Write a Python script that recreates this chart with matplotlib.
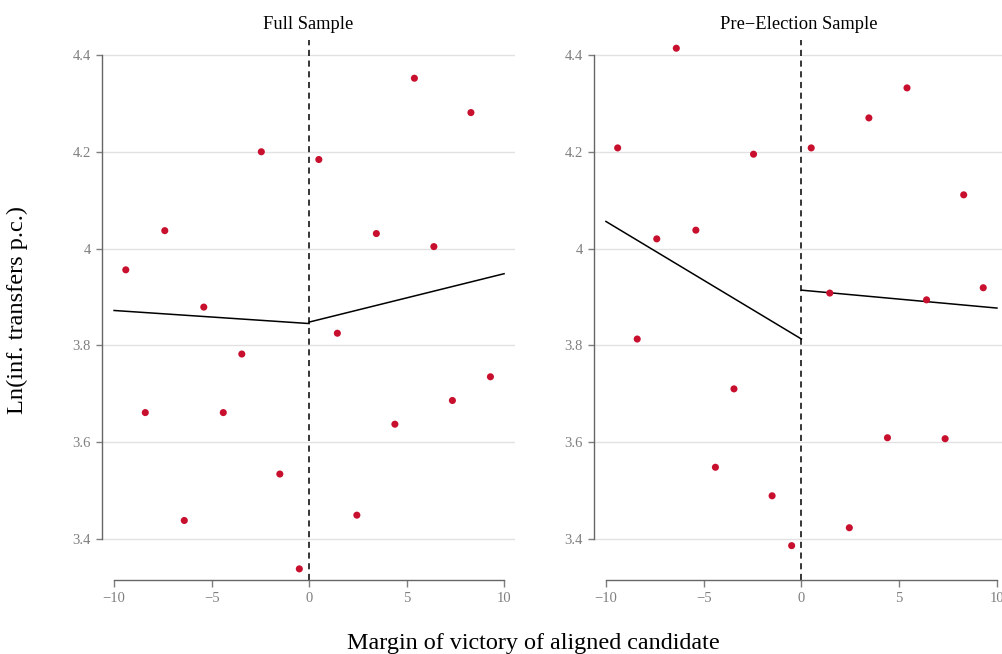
import matplotlib.pyplot as plt

plt.rcParams['font.family'] = ['Liberation Serif', 'DejaVu Serif']
plt.rcParams['axes.unicode_minus'] = True

# bin midpoints of the margin of victory
x_left = [-9.4, -8.4, -7.4, -6.4, -5.4, -4.4, -3.45, -2.45, -1.5, -0.5]
x_right = [0.5, 1.45, 2.45, 3.45, 4.4, 5.4, 6.4, 7.35, 8.3, 9.3]

# Full sample bin means
full_left = [3.956, 3.661, 4.037, 3.438, 3.879, 3.661, 3.782, 4.200, 3.534, 3.338]
full_right = [4.184, 3.825, 3.449, 4.031, 3.637, 4.352, 4.004, 3.686, 4.281, 3.735]
full_fit_left = [3.872, 3.845]
full_fit_right = [3.848, 3.948]

# Pre-election sample bin means
pre_left = [4.208, 3.813, 4.020, 4.414, 4.038, 3.548, 3.710, 4.195, 3.489, 3.386]
pre_right = [4.208, 3.908, 3.423, 4.270, 3.609, 4.332, 3.894, 3.607, 4.111, 3.919]
pre_fit_left = [4.056, 3.813]
pre_fit_right = [3.914, 3.877]

fit_x_left = [-10, 0]
fit_x_right = [0, 10]

y_ticks = [3.4, 3.6, 3.8, 4.0, 4.2, 4.4]
y_tick_labels = ['3.4', '3.6', '3.8', '4', '4.2', '4.4']
x_ticks = [-10, -5, 0, 5, 10]
x_tick_labels = ['\u221210', '\u22125', '0', '5', '10']

panels = [
    ("Full Sample", full_left, full_right, full_fit_left, full_fit_right),
    ("Pre\u2212Election Sample", pre_left, pre_right, pre_fit_left, pre_fit_right),
]

fig = plt.figure(figsize=(10.03, 6.54), dpi=100)
ax1 = fig.add_axes([102 / 1003, 74 / 654, 413 / 1003, 540 / 654])
ax2 = fig.add_axes([594 / 1003, 74 / 654, 409 / 1003, 540 / 654])
limits = [(-10.62, 10.56), (-10.61, 10.31)]

red = '#c8102e'
gray = '#7f7f7f'

for ax, (title, yl, yr, fl, fr), xlim in zip([ax1, ax2], panels, limits):
    for y in y_ticks:
        ax.axhline(y, color='#e2e2e2', linewidth=1.0, zorder=0)
    ax.axvline(0, color='black', linestyle=(0, (4, 3)), linewidth=1.1, zorder=1)
    ax.plot(fit_x_left, fl, color='black', linewidth=1.1, zorder=2)
    ax.plot(fit_x_right, fr, color='black', linewidth=1.1, zorder=2)
    ax.scatter(x_left + x_right, yl + yr, s=26, color=red, edgecolors='none', zorder=3)

    ax.set_xlim(*xlim)
    ax.set_ylim(3.315, 4.431)
    ax.set_yticks(y_ticks)
    ax.set_yticklabels(y_tick_labels)
    ax.set_xticks(x_ticks)
    ax.set_xticklabels(x_tick_labels)
    ax.tick_params(colors=gray, labelsize=10.5, length=5, width=1.0,
                   labelcolor=gray)
    ax.tick_params(axis='x', pad=4)
    ax.tick_params(axis='y', length=4, pad=4)

    for side in ['top', 'right']:
        ax.spines[side].set_visible(False)
    ax.spines['left'].set_bounds(3.4, 4.4)
    ax.spines['bottom'].set_bounds(-10, 10)
    for side in ['left', 'bottom']:
        ax.spines[side].set_color('#666666')
        ax.spines[side].set_linewidth(1.0)

    ax.set_title(title, fontsize=13.3, color='black', pad=8)

fig.text(17 / 1003, 0.526, 'Ln(inf. transfers p.c.)', rotation=90, fontsize=17.6,
         ha='center', va='center')
fig.text(533 / 1003, 10 / 654, 'Margin of victory of aligned candidate',
         fontsize=17.4, ha='center', va='center')

fig.savefig('out.png', dpi=100)
